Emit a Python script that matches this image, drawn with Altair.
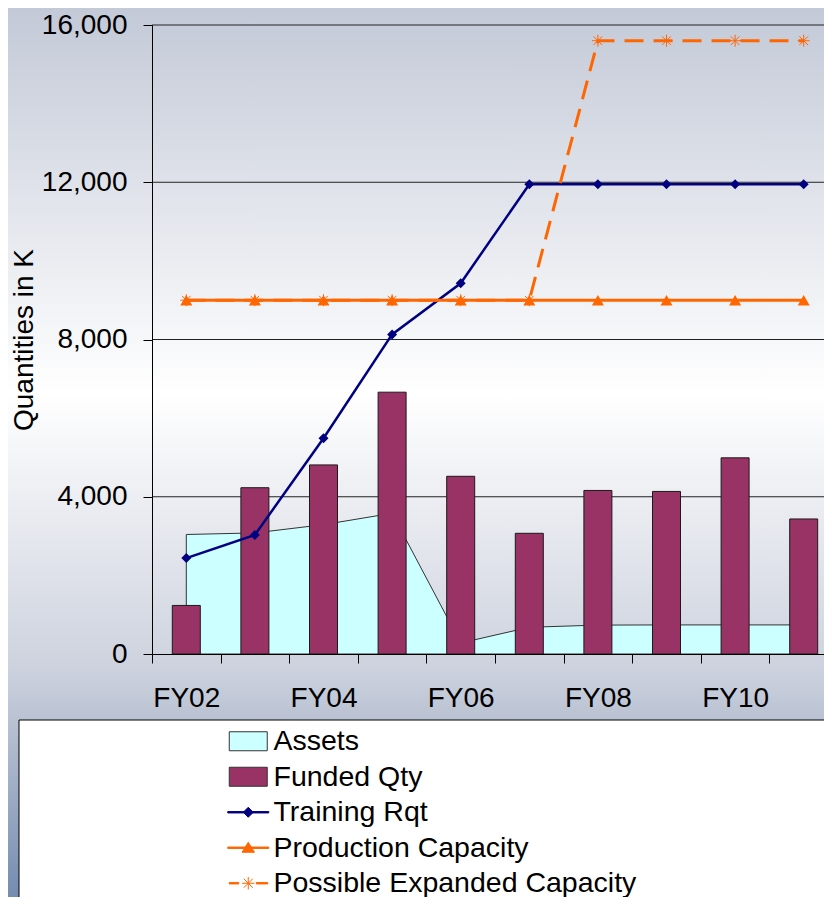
import altair as alt
import pandas as pd

# ---------------- data ----------------
years = ["FY02", "FY03", "FY04", "FY05", "FY06", "FY07", "FY08", "FY09", "FY10", "FY11"]
assets = [3040, 3080, 3290, 3580, 280, 680, 735, 740, 740, 740]
funded_qty = [1235, 4230, 4810, 6660, 4520, 3070, 4160, 4135, 4990, 3435]
training_rqt = [2440, 3030, 5490, 8130, 9430, 11950, 11950, 11950, 11950, 11950]
production_capacity = [9000, 9000, 9000, 9000, 9000, 9000, 9000, 9000, 9000, 9000]
expanded_capacity = [9000, 9000, 9000, 9000, 9000, 9000, 15600, 15600, 15600, 15600]

y_ticks = [0, 4000, 8000, 12000, 16000]
x_labels = ["FY02", "FY04", "FY06", "FY08", "FY10"]
series = ["Assets", "Funded Qty", "Training Rqt", "Production Capacity",
          "Possible Expanded Capacity"]

rows = []
for name, vals in zip(series, [assets, funded_qty, training_rqt,
                               production_capacity, expanded_capacity]):
    for yr, v in zip(years, vals):
        rows.append({"year": yr, "series": name, "value": v})
df = pd.DataFrame(rows)
grid_df = pd.DataFrame({"value": y_ticks[1:]})
legend_df = pd.DataFrame({"series": series})

# ---------------- styles ----------------
NAVY = "#000080"
ORANGE = "#ff6600"
MAROON = "#993366"
CYAN = "#ccffff"
FONT = "Liberation Sans"
TOP = 17
W, H = 672, 629          # visible plot area (svg is 816 x 889)
X_RANGE = 686            # category axis runs slightly past the right edge

ASTERISK = "M-1,0H1M0,-1V1M-0.72,-0.72L0.72,0.72M-0.72,0.72L0.72,-0.72"
LEG_RECT = "M-1.9,-0.95H1.9V0.95H-1.9Z"
LEG_LINE = "M-2.05,-0.07H2.05V0.07H-2.05Z"
LEG_TRAIN = LEG_LINE + "M0,-0.5L0.5,0L0,0.5L-0.5,0Z"
LEG_PROD = LEG_LINE + "M0,-0.55L0.62,0.45L-0.62,0.45Z"
LEG_EXP = ("M-1.9,-0.07H-0.95V0.07H-1.9Z M0.8,-0.07H1.95V0.07H0.8Z "
           "M-0.62,0H0.62M0,-0.62V0.62M-0.45,-0.45L0.45,0.45M-0.45,0.45L0.45,-0.45")

label_expr = "indexof([" + ",".join("'%s'" % s for s in x_labels) + "], datum.value) >= 0 ? datum.value : ''"

x_enc = alt.X(
    "year:N", sort=years, title=None,
    scale=alt.Scale(domain=years, range=[0, X_RANGE], paddingInner=0, paddingOuter=0),
    axis=alt.Axis(tickBand="extent", labelExpr=label_expr, labelAngle=0,
                  labelOverlap=False, labelFontSize=28, labelColor="black",
                  labelPadding=21, tickSize=9, tickColor="black",
                  domainColor="black", grid=False, zindex=1, labelFont=FONT),
)
x_pt = alt.X("year:N", sort=years, title=None, bandPosition=0.5)
y_enc = alt.Y(
    "value:Q", title="Quantities in K",
    scale=alt.Scale(domain=[0, 16000], nice=False, zero=True),
    axis=alt.Axis(values=y_ticks, format=",.0f", labelFontSize=28, labelColor="black",
                  labelPadding=16, tickSize=9, tickColor="black", domainColor="black",
                  titleFontSize=28, titleFontWeight="normal", titleColor="black",
                  titlePadding=3, grid=False, zindex=1, labelFont=FONT, titleFont=FONT),
)

bg_gradient = alt.LinearGradient(
    gradient="linear", x1=0, y1=0, x2=0, y2=1,
    stops=[
        alt.GradientStop(offset=0.0, color="#c3c9d7"),
        alt.GradientStop(offset=0.42, color="#ffffff"),
        alt.GradientStop(offset=0.72, color="#cdd2de"),
        alt.GradientStop(offset=0.78, color="#b8c1d2"),
        alt.GradientStop(offset=1.0, color="#6a84ab"),
    ],
)

# page background panel and the legend's white frame
background = alt.Chart(alt.Data(values=[{}])).mark_rect(fill=bg_gradient).encode(
    x=alt.value(-144), x2=alt.value(W + 20), y=alt.value(-TOP), y2=alt.value(900)
)
legend_frame = alt.Chart(alt.Data(values=[{}])).mark_rect(
    fill="white", stroke="black", strokeWidth=1
).encode(x=alt.value(-133), x2=alt.value(W + 20), y=alt.value(695), y2=alt.value(920))

gridlines = alt.Chart(grid_df).mark_rule(color="#222222", strokeWidth=1).encode(y=y_enc)

base = alt.Chart(df)

area = base.transform_filter(alt.datum.series == "Assets").mark_area(
    fill=CYAN, stroke="#333333", strokeWidth=1, opacity=1
).encode(x=x_enc, y=y_enc)

bars = base.transform_filter(alt.datum.series == "Funded Qty").mark_bar(
    fill=MAROON, stroke="#1a1a1a", strokeWidth=1, width=28
).encode(x=x_enc, y=y_enc)

train_line = base.transform_filter(alt.datum.series == "Training Rqt").mark_line(
    color=NAVY, strokeWidth=2.5
).encode(x=x_pt, y=y_enc)
train_pts = base.transform_filter(alt.datum.series == "Training Rqt").mark_point(
    shape="diamond", filled=True, color=NAVY, size=100, opacity=1
).encode(x=x_pt, y=y_enc)

prod_line = base.transform_filter(alt.datum.series == "Production Capacity").mark_line(
    color=ORANGE, strokeWidth=3
).encode(x=x_pt, y=y_enc)
prod_pts = base.transform_filter(alt.datum.series == "Production Capacity").mark_point(
    shape="triangle-up", filled=True, color=ORANGE, size=144, opacity=1
).encode(x=x_pt, y=y_enc)

exp_line = base.transform_filter(alt.datum.series == "Possible Expanded Capacity").mark_line(
    color=ORANGE, strokeWidth=3, strokeDash=[19, 10]
).encode(x=x_pt, y=y_enc)
exp_pts = base.transform_filter(alt.datum.series == "Possible Expanded Capacity").mark_point(
    shape=ASTERISK, filled=False, color=ORANGE, size=144, strokeWidth=1, opacity=1
).encode(x=x_pt, y=y_enc)

leg = alt.Legend(
    title=None, orient="none", legendX=-133, legendY=695, direction="vertical",
    padding=7,
    symbolSize=400, symbolStrokeWidth=1, symbolOffset=208, symbolOpacity=1,
    symbolFillColor="white",
    labelOffset=11, labelFontSize=28.5, labelFont=FONT, labelColor="black",
    labelLimit=1000, rowPadding=6.5,
)
legend_layer = alt.Chart(legend_df).mark_point(filled=True, size=0, opacity=1).encode(
    fill=alt.Fill("series:N", scale=alt.Scale(domain=series,
                  range=[CYAN, MAROON, NAVY, ORANGE, ORANGE]), legend=leg),
    stroke=alt.Stroke("series:N", scale=alt.Scale(domain=series,
                      range=["#333333", "#333333", NAVY, ORANGE, ORANGE]), legend=leg),
    shape=alt.Shape("series:N", scale=alt.Scale(domain=series,
                    range=[LEG_RECT, LEG_RECT, LEG_TRAIN, LEG_PROD, LEG_EXP]), legend=leg),
)

chart = alt.layer(
    background, legend_frame, gridlines, area, bars, train_line, train_pts,
    prod_line, prod_pts, exp_line, exp_pts, legend_layer
).properties(
    width=W, height=H,
    autosize=alt.AutoSizeParams(type="none"),
    padding={"left": 144, "top": TOP, "right": 0, "bottom": 243},
).configure(font=FONT).configure_view(stroke=None)

chart.save("out.html", embed_options={"renderer": "svg", "actions": False})
